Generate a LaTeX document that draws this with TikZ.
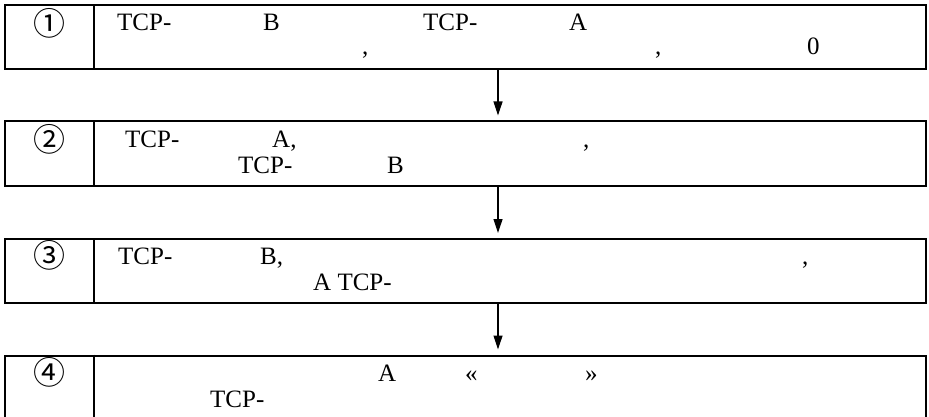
\documentclass[tikz,border=0pt]{standalone}
\usepackage{fontspec}
\setmainfont{Liberation Serif}
\newfontfamily\circfont{Noto Sans CJK SC}
\usetikzlibrary{arrows.meta}

\begin{document}
\begin{tikzpicture}[x=1pt,y=-1pt,>={Triangle[length=14pt,width=9pt]},
  stepbox/.style={draw,line width=2pt,minimum width=921pt,minimum height=64pt,inner sep=0pt},
  txt/.style={anchor=base west,inner sep=0pt,font=\fontsize{25}{26}\selectfont},
  num/.style={anchor=center,inner sep=0pt,font=\circfont\fontsize{32}{32}\selectfont}]
\useasboundingbox (0,0) rectangle (929,417);
% steps
\node [stepbox] (s1) at (465.5,37.5) {};
\node [stepbox] (s2) at (465.5,153.5) {};
\node [stepbox] (s3) at (465.5,271) {};
\node [stepbox] (s4) at (465.5,387.5) {};
\foreach \s in {s1,s2,s3,s4}
  \draw [line width=2pt] ([xshift=90pt]\s.north west)-- ([xshift=90pt]\s.south west);
\foreach \a/\b in {s1/s2,s2/s3,s3/s4}
  \draw [->,line width=1.2pt] ([xshift=32.5pt]\a.south)-- ([xshift=32.5pt,yshift=5pt]\b.north);
% numbers
\node [num] (n1) at (50,23) {①};
\node [num] (n2) at (50,139) {②};
\node [num] (n3) at (50,255) {③};
\node [num] (n4) at (50,372) {④};
% step 1
\node [txt] (t1a) at (117,31) {TCP-};
\node [txt] (t1b) at (263,31) {B};
\node [txt] (t1c) at (423,31) {TCP-};
\node [txt] (t1d) at (569,31) {A};
\node [txt] (t1e) at (362,55) {,};
\node [txt] (t1f) at (655,55) {,};
\node [txt] (t1g) at (807,55) {0};
% step 2
\node [txt] (t2a) at (125,148) {TCP-};
\node [txt] (t2b) at (272,148) {A,};
\node [txt] (t2c) at (583,148) {,};
\node [txt] (t2d) at (238,174) {TCP-};
\node [txt] (t2e) at (387,174) {B};
% step 3
\node [txt] (t3a) at (118,264) {TCP-};
\node [txt] (t3b) at (260,264) {B,};
\node [txt] (t3c) at (802,264) {,};
\node [txt] (t3d) at (313,290) {A TCP-};
% step 4
\node [txt] (t4a) at (378,381) {A};
\node [txt] (t4b) at (465,381) {«};
\node [txt] (t4c) at (585,381) {»};
\node [txt] (t4d) at (210,407) {TCP-};
\end{tikzpicture}
\end{document}
